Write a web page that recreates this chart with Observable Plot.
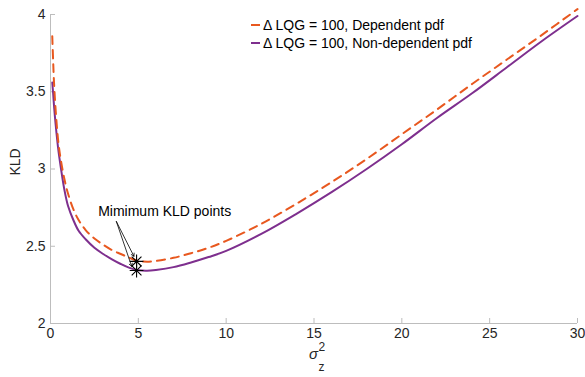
<!DOCTYPE html>
<html><head><meta charset="utf-8">
<script src="https://cdn.jsdelivr.net/npm/d3@7"></script>
<script src="https://cdn.jsdelivr.net/npm/@observablehq/plot@0.6"></script>
<style>body{margin:0;background:#fff} #chart{width:585px;height:377px}</style>
</head><body><div id="chart"></div>
<script>
// ---- data ----
const sigma2 = [0.1, 0.15, 0.2, 0.3, 0.45, 0.6, 0.8, 1, 1.3, 1.6, 2, 2.5, 3, 3.5, 4, 4.5, 5, 5.5, 6, 7, 8, 9, 10, 12, 14, 16, 18, 20, 22, 24, 26, 28, 30];
const kldDependent = [3.86, 3.70, 3.56, 3.37, 3.17, 3.05, 2.93, 2.84, 2.74, 2.67, 2.605, 2.55, 2.51, 2.475, 2.45, 2.425, 2.405, 2.40, 2.405, 2.425, 2.455, 2.49, 2.535, 2.645, 2.775, 2.915, 3.065, 3.225, 3.385, 3.55, 3.71, 3.87, 4.035];
const kldNonDependent = [3.56, 3.49, 3.41, 3.28, 3.12, 3.00, 2.86, 2.76, 2.67, 2.60, 2.545, 2.49, 2.45, 2.415, 2.385, 2.36, 2.345, 2.342, 2.347, 2.365, 2.395, 2.43, 2.47, 2.58, 2.71, 2.85, 3.00, 3.16, 3.33, 3.49, 3.66, 3.83, 3.99];
const seriesNames = ["\u0394 LQG = 100, Dependent pdf", "\u0394 LQG = 100, Non-dependent pdf"];
const seriesColors = ["#E8581F", "#7E2F8E"];
const minPointX = [4.9, 4.9];
const minPointY = [2.402, 2.343];
const annotationLabel = ["Mimimum KLD points"];
const annotationX = [6.5];
const annotationY = [2.725];
const arrowStartX = [3.75, 3.75];
const arrowStartY = [2.66, 2.66];
const arrowEndX = [4.75, 4.62];
const arrowEndY = [2.435, 2.37];
const xTicks = [0, 5, 10, 15, 20, 25, 30];
const yTicks = [2, 2.5, 3, 3.5, 4];

const rows = [];
sigma2.forEach((x, i) => {
  rows.push({x, y: kldDependent[i], s: seriesNames[0]});
  rows.push({x, y: kldNonDependent[i], s: seriesNames[1]});
});
const dep = rows.filter(d => d.s === seriesNames[0]);
const nondep = rows.filter(d => d.s === seriesNames[1]);
const mins = minPointX.map((x, i) => ({x, y: minPointY[i]}));
const arrows = arrowStartX.map((x1, i) => ({x1, y1: arrowStartY[i], x2: arrowEndX[i], y2: arrowEndY[i]}));
const notes = annotationLabel.map((t, i) => ({t, x: annotationX[i], y: annotationY[i]}));

const FONT = "Helvetica, 'Liberation Sans', Arial, sans-serif";
const W = 585, H = 377, ML = 50, MR = 8, MT = 14, MB = 54;

const svg = Plot.plot({
  width: W, height: H,
  marginLeft: ML, marginRight: MR, marginTop: MT, marginBottom: MB,
  x: {domain: [0, 30]},
  y: {domain: [2, 4]},
  style: {fontFamily: FONT, fontSize: "14px", color: "#262626", background: "#fff", overflow: "visible"},
  marks: [
    Plot.ruleY([2], {stroke: "#bdbdbd"}),
    Plot.ruleX([0], {stroke: "#bdbdbd"}),
    Plot.axisX({ticks: xTicks, tickSize: -5, tickPadding: 10, stroke: "#bdbdbd", fill: "#262626", label: null, tickFormat: d => String(d)}),
    Plot.axisY({ticks: yTicks, tickSize: -5, tickPadding: 10, stroke: "#bdbdbd", fill: "#262626", label: null, tickFormat: d => String(d)}),
    Plot.line(nondep, {x: "x", y: "y", stroke: seriesColors[1], strokeWidth: 2, curve: "catmull-rom"}),
    Plot.line(dep, {x: "x", y: "y", stroke: seriesColors[0], strokeWidth: 2, strokeDasharray: "8,6", curve: "catmull-rom"}),
    Plot.arrow(arrows, {x1: "x1", y1: "y1", x2: "x2", y2: "y2", stroke: "#000", strokeWidth: 0.8, headLength: 6}),
    Plot.dot(mins, {x: "x", y: "y", symbol: "plus", r: 4.5, stroke: "#000", strokeWidth: 1.1, fill: "none"}),
    Plot.dot(mins, {x: "x", y: "y", symbol: "times", r: 4.5, stroke: "#000", strokeWidth: 1.1, fill: "none"}),
    Plot.text(notes, {x: "x", y: "y", text: "t", fontSize: 14, fill: "#000", textAnchor: "middle"})
  ]
});

const g = d3.select(svg).append("g").attr("font-family", FONT).attr("fill", "#262626").attr("text-anchor", "start");
// legend
const legY = [25, 43];
seriesNames.forEach((name, i) => {
  g.append("line").attr("x1", 251).attr("x2", 260).attr("y1", legY[i]).attr("y2", legY[i])
    .attr("stroke", seriesColors[i]).attr("stroke-width", 2);
  g.append("text").attr("x", 263).attr("y", legY[i]).attr("dy", "0.35em").attr("text-anchor", "start")
    .attr("font-size", 14).attr("fill", "#000").text(name);
});
// y label
g.append("text").attr("transform", "translate(15,162) rotate(-90)").attr("text-anchor", "middle")
  .attr("dy", "0.35em").attr("font-size", 14).text("KLD");
// x label: sigma with sub z and sup 2
const xl = g.append("g").attr("transform", "translate(318,0)");
xl.append("text").attr("x", 0).attr("y", 359).attr("text-anchor", "end").attr("font-size", 15).attr("font-style", "italic").text("\u03C3");
xl.append("text").attr("x", 0.5).attr("y", 351).attr("text-anchor", "start").attr("font-size", 12).text("2");
xl.append("text").attr("x", 0.5).attr("y", 371).attr("text-anchor", "start").attr("font-size", 12).text("z");

document.getElementById("chart").appendChild(svg);
</script>
</body></html>
